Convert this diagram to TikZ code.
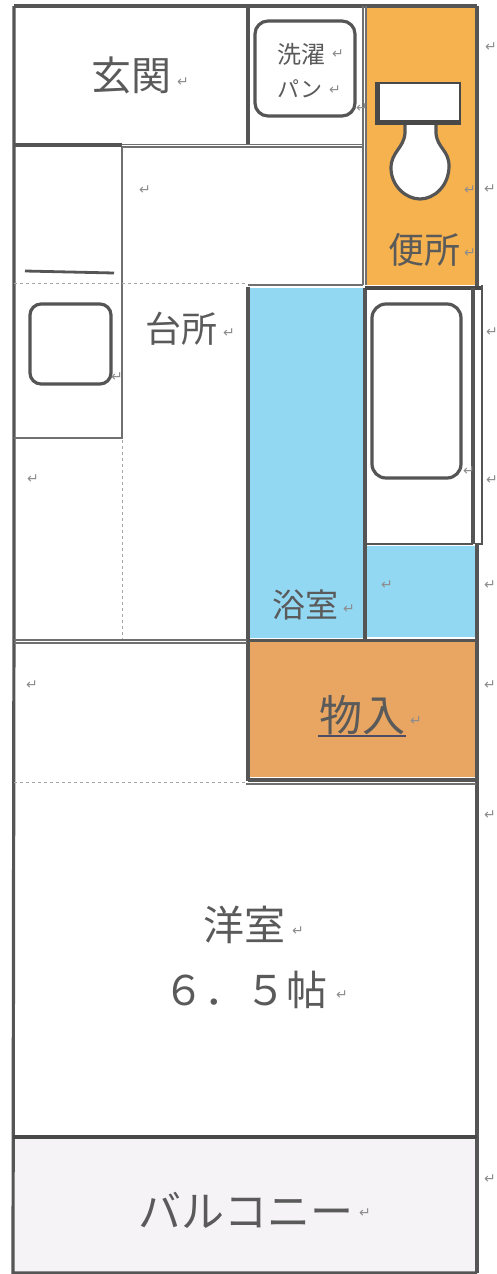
\documentclass[tikz,border=0pt]{standalone}
\usepackage{fontspec}
\setmainfont{Noto Sans CJK JP}
\newfontfamily\retfont{DejaVu Sans}
\definecolor{wallc}{HTML}{555555}
\definecolor{thinc}{HTML}{707070}
\definecolor{bathblue}{HTML}{93D8F3}
\definecolor{wcorange}{HTML}{F5B24F}
\definecolor{storeorange}{HTML}{E9A662}
\definecolor{balc}{HTML}{F6F3F6}
\definecolor{txtc}{HTML}{5A5A5A}
\tikzset{
  wall/.style={draw=wallc,line width=3.2pt},
  heavywall/.style={draw=wallc!85!black,line width=4.5pt},
  thinwall/.style={draw=thinc,line width=1.2pt},
  dashwall/.style={draw=gray!70,line width=0.7pt,dashed},
  fixture/.style={draw=wallc,line width=3.2pt,fill=white,rounded corners=13pt},
  label/.style={inner sep=0pt,text=txtc,anchor=center},
  retmark/.style={inner sep=0pt,text=gray!90,font=\retfont\fontsize{14}{14}\selectfont,anchor=center}
}
\begin{document}
\begin{tikzpicture}[x=1pt,y=-1pt]
\useasboundingbox (0,0) rectangle (496,1274);
% colour fields
\fill[wcorange] (367,7) rectangle (476,285);
\fill[bathblue] (249,288) rectangle (364,638);
\fill[bathblue] (367,546) rectangle (476,637);
\fill[storeorange] (249,642) rectangle (476,777);
\fill[balc] (14,1139) rectangle (476,1272);
% outer walls
\draw[wall] (14,6) -- (477,6);
\draw[wall] (14,6) -- (14,600) -- (13,1273) -- (477,1273);
\draw[wall] (477,6) -- (477,288);
\draw[wall] (477,544) -- (477,1273);
\draw[heavywall] (13,1137) -- (477,1137);
% entrance and laundry
\draw[wall] (248,6) -- (248,145);
\draw[wall] (14,145) -- (122,145);
\draw[thinwall] (122,144.5) -- (363,144.5);
\draw[thinwall] (122,147) -- (363,147);
\draw[thinwall] (363,6) -- (363,285);
\draw[thinwall] (366,6) -- (366,285);
\node[fixture,minimum width=100pt,minimum height=95pt,inner sep=0pt] (pan) at (305,68.5) {};
% kitchen closet
\draw[thinwall] (122,147) -- (122,438) -- (14,438);
\draw[dashwall] (14,283) -- (248,283);
\draw[draw=wallc,line width=2.8pt] (25,271) -- (114,273);
\node[fixture,rounded corners=11pt,minimum width=81pt,minimum height=80pt,inner sep=0pt] (sink) at (70.5,344) {};
\draw[dashwall] (122,440) -- (122,640);
% toilet
\draw[wall,fill=white,line join=round] (405,124) -- (405,133)
  .. controls (404,148) and (391,152) .. (391,168)
  .. controls (391,186) and (406,199) .. (420,199)
  .. controls (434,199) and (449,186) .. (449,166)
  .. controls (449,150) and (437,148) .. (436,133) -- (436,124);
\fill[wallc!85!black] (375,82) rectangle (461,125);
\fill[white] (380,84) rectangle (459,120);
% bath
\draw[thinwall] (248,285) -- (363,285);
\draw[wall] (248,287) -- (248,781);
\draw[wall] (365,288) -- (365,640);
\draw[heavywall] (365,288) -- (482,288);
\fill[white] (367,290.5) rectangle (471,543);
\fill[white] (475,290.5) rectangle (481,543);
\draw[wall,line width=4.5pt] (473,288) -- (473,544);
\draw[draw=wallc,line width=1.8pt] (482,285) -- (482,544) -- (475,544);
\draw[draw=wallc,line width=2pt] (365,544) -- (473,544);
\node[fixture,rounded corners=14pt,minimum width=89pt,minimum height=174pt,inner sep=0pt] (tub) at (416.5,391) {};
% lower partitions
\draw[wall] (248,640.5) -- (477,640.5);
\draw[thinwall] (14,640) -- (247,640);
\draw[thinwall] (14,643) -- (247,643);
\draw[wall] (248,780) -- (477,780);
\draw[thinwall] (246,784) -- (476,784);
\draw[dashwall] (14,782) -- (246,782);
% room names
\node[label,font=\fontsize{40}{40}\selectfont] (genkan) at (131,75) {玄関};
\node[label,font=\fontsize{24}{24}\selectfont] (sentaku) at (301,54) {洗濯};
\node[label,font=\fontsize{22}{22}\selectfont] (panlab) at (300,89) {パン};
\node[label,font=\fontsize{36}{36}\selectfont] (benjo) at (424,250) {便所};
\node[label,font=\fontsize{36}{36}\selectfont] (daidokoro) at (181,329) {台所};
\node[label,font=\fontsize{33}{33}\selectfont] (yokushitsu) at (305,605) {浴室};
\node[label,font=\fontsize{43}{43}\selectfont] (monoire) at (362,715) {物入};
\draw[draw=wallc!90!blue,line width=2.4pt] (318,736) -- (406,736);
\node[label,font=\fontsize{41}{41}\selectfont] (yoshitsu) at (244,925) {洋室};
\node[label,font=\fontsize{41}{41}\selectfont] (jo) at (245,990) {６．５帖};
\node[label,font=\fontsize{43}{43}\selectfont] (balcony) at (246,1210) {バルコニー};
% paragraph marks
\node[retmark] (m1) at (183,82) {↵};
\node[retmark] (m2) at (338,54) {↵};
\node[retmark] (m3) at (335,90) {↵};
\node[retmark] (m4) at (491,47) {↵};
\node[retmark] (m5) at (362,108) {↵};
\node[retmark] (m6) at (470,190) {↵};
\node[retmark] (m7) at (490,189) {↵};
\node[retmark] (m8) at (470,253) {↵};
\node[retmark] (m9) at (145,190) {↵};
\node[retmark] (m10) at (229,333) {↵};
\node[retmark] (m11) at (117,377) {↵};
\node[retmark] (m12) at (33,479) {↵};
\node[retmark] (m13) at (492,332) {↵};
\node[retmark] (m14) at (492,480) {↵};
\node[retmark] (m15) at (469,471) {↵};
\node[retmark] (m16) at (349,609) {↵};
\node[retmark] (m17) at (387,585) {↵};
\node[retmark] (m18) at (490,585) {↵};
\node[retmark] (m19) at (32,685) {↵};
\node[retmark] (m20) at (490,685) {↵};
\node[retmark] (m21) at (416,721) {↵};
\node[retmark] (m22) at (490,815) {↵};
\node[retmark] (m23) at (298,931) {↵};
\node[retmark] (m24) at (342,995) {↵};
\node[retmark] (m25) at (365,1213) {↵};
\node[retmark] (m26) at (490,1179) {↵};
\end{tikzpicture}
\end{document}
